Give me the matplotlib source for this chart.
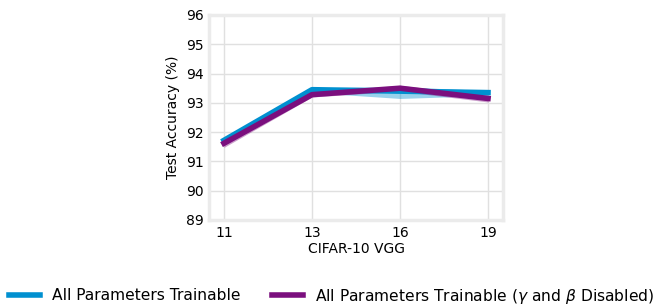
import matplotlib
matplotlib.use("Agg")
import matplotlib.pyplot as plt
import numpy as np

categories = ["11", "13", "16", "19"]
blue_mean = [91.72, 93.45, 93.4, 93.35]
blue_lo = [91.65, 93.35, 93.15, 93.25]
blue_hi = [91.78, 93.52, 93.55, 93.42]
purple_mean = [91.62, 93.28, 93.5, 93.15]
purple_lo = [91.48, 93.2, 93.4, 93.03]
purple_hi = [91.72, 93.35, 93.6, 93.25]
yticks = [89, 90, 91, 92, 93, 94, 95, 96]
labels = ["All Parameters Trainable", r"All Parameters Trainable ($\gamma$ and $\beta$ Disabled)"]
colors = ["#0090d0", "#7b0f7e"]

fig = plt.figure(figsize=(6.57, 3.04), dpi=100)
ax = fig.add_axes([209/657, 1 - 220/304, 294/657, 205/304])
x = np.arange(len(categories))
ax.fill_between(x, blue_lo, blue_hi, color=colors[0], alpha=0.4, lw=0)
ax.plot(x, blue_mean, color=colors[0], lw=4.0, label=labels[0])
ax.fill_between(x, purple_lo, purple_hi, color=colors[1], alpha=0.4, lw=0)
ax.plot(x, purple_mean, color=colors[1], lw=4.0, label=labels[1])

ax.set_xlim(-0.17, 3.17)
ax.set_ylim(89, 96)
ax.set_xticks(x)
ax.set_xticklabels(categories)
ax.set_yticks(yticks)
ax.grid(True, color="#e0e0e0", lw=1)
ax.set_axisbelow(True)
for s in ax.spines.values():
    s.set_color("#ebebeb")
    s.set_linewidth(2.5)
ax.tick_params(length=0, labelsize=10, pad=4)
ax.set_xlabel("CIFAR-10 VGG", fontsize=10, labelpad=2)
ax.set_ylabel("Test Accuracy (%)", fontsize=10, labelpad=4)

fig.legend(loc="center", bbox_to_anchor=(331.5/657, 1 - 296/304), ncol=2, frameon=False,
           fontsize=11.2, handlelength=2.0, columnspacing=2.0, handletextpad=0.8)
fig.savefig("out.png", dpi=100)
